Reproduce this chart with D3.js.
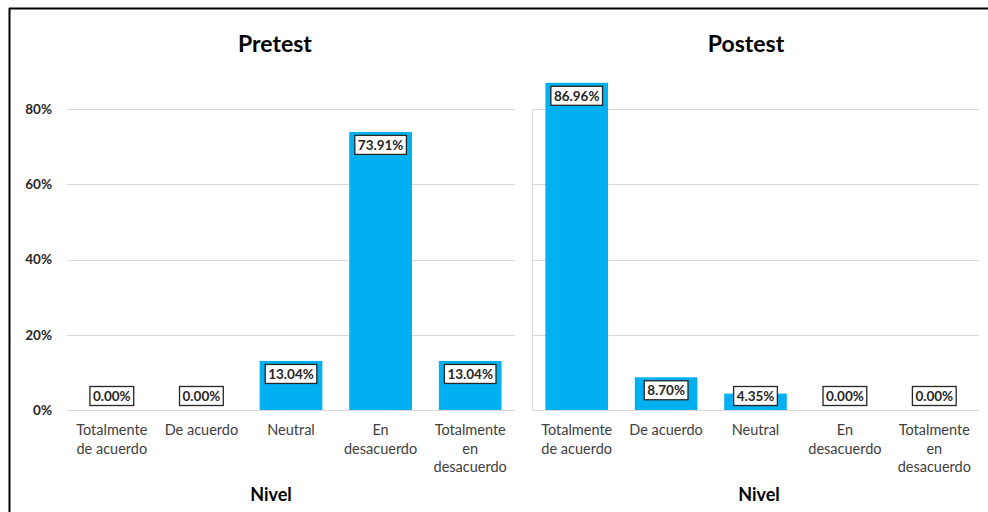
<!DOCTYPE html>
<html>
<head>
<meta charset="utf-8">
<script src="https://cdn.jsdelivr.net/npm/d3@7"></script>
<style>
  body { margin: 0; background: #fff; }
  svg { font-family: Lato, "Open Sans", sans-serif; }
</style>
</head>
<body>
<svg></svg>
<script>
const width = 988;
const height = 512;

// data
const categories = ["Totalmente de acuerdo", "De acuerdo", "Neutral", "En desacuerdo", "Totalmente en desacuerdo"];
const categoryLines = [["Totalmente", "de acuerdo"], ["De acuerdo"], ["Neutral"], ["En", "desacuerdo"], ["Totalmente", "en", "desacuerdo"]];
const pretest = [0.00, 0.00, 13.04, 73.91, 13.04];
const postest = [86.96, 8.70, 4.35, 0.00, 0.00];
const yTicks = [0, 20, 40, 60, 80];

const svg = d3.select("svg")
  .attr("width", width)
  .attr("height", height);

// outer frame (top and left edges visible)
svg.append("line").attr("x1", 9).attr("x2", width).attr("y1", 8.5).attr("y2", 8.5)
  .attr("stroke", "#000").attr("stroke-width", 2);
svg.append("line").attr("x1", 9.5).attr("x2", 9.5).attr("y1", 8).attr("y2", height)
  .attr("stroke", "#000").attr("stroke-width", 2);

const y = d3.scaleLinear().domain([0, 80]).range([410, 109]);

function panel(title, values, x0, x1, titleX, nivelX, showY, showAxisLine) {
  const x = d3.scaleBand().domain(categories).range([x0, x1]).paddingInner(0.3).paddingOuter(0.15);
  const g = svg.append("g");

  // gridlines
  g.selectAll("line.grid").data(yTicks).enter().append("line")
    .attr("class", "grid")
    .attr("x1", x0).attr("x2", x1)
    .attr("y1", d => Math.round(y(d)) + 0.5).attr("y2", d => Math.round(y(d)) + 0.5)
    .attr("stroke", "#d9d9d9").attr("stroke-width", 1);

  if (showAxisLine) {
    g.append("line").attr("x1", x0 + 0.5).attr("x2", x0 + 0.5)
      .attr("y1", y(80)).attr("y2", y(0))
      .attr("stroke", "#d9d9d9");
  }

  if (showY) {
    const ay = g.append("g").attr("transform", "translate(" + x0 + ",0)")
      .call(d3.axisLeft(y).tickValues(yTicks).tickSize(0).tickPadding(15).tickFormat(d => d + "%"));
    ay.select(".domain").remove();
    ay.selectAll("text").attr("font-size", 13.5).attr("font-weight", "bold")
      .attr("fill", "#262626").attr("font-family", "Lato, sans-serif");
  }

  // bars
  g.selectAll("rect.bar").data(values).enter().append("rect")
    .attr("class", "bar")
    .attr("x", (d, i) => x(categories[i]))
    .attr("width", x.bandwidth())
    .attr("y", d => y(d))
    .attr("height", d => y(0) - y(d))
    .attr("fill", "#00b0f0");

  // data labels
  const lab = g.selectAll("g.lab").data(values).enter().append("g")
    .attr("class", "lab")
    .attr("transform", (d, i) => {
      const cy = Math.min(y(d) + 13, 396);
      return "translate(" + (x(categories[i]) + x.bandwidth() / 2) + "," + cy + ")";
    });
  lab.append("text")
    .attr("text-anchor", "middle")
    .attr("dy", "0.36em")
    .attr("font-size", 13.5)
    .attr("font-weight", "bold")
    .attr("fill", "#262626")
    .text(d => d.toFixed(2) + "%");
  lab.each(function () {
    const t = d3.select(this).select("text");
    const b = t.node().getBBox();
    d3.select(this).insert("rect", "text")
      .attr("x", b.x - 3).attr("y", -9.5)
      .attr("width", b.width + 6).attr("height", 19)
      .attr("fill", "#fff").attr("stroke", "#262626").attr("stroke-width", 1.3);
  });

  // category labels
  const cat = g.selectAll("text.cat").data(categoryLines).enter().append("text")
    .attr("class", "cat")
    .attr("text-anchor", "middle")
    .attr("font-size", 14.5)
    .attr("fill", "#404040")
    .attr("x", (d, i) => x(categories[i]) + x.bandwidth() / 2)
    .attr("y", 435);
  cat.selectAll("tspan").data(d => d).enter().append("tspan")
    .attr("x", function () { return d3.select(this.parentNode).attr("x"); })
    .attr("dy", (d, i) => i === 0 ? 0 : 18.5)
    .text(d => d);

  // titles
  g.append("text")
    .attr("x", titleX).attr("y", 52)
    .attr("text-anchor", "middle")
    .attr("font-size", 23).attr("font-weight", "bold").attr("fill", "#000")
    .text(title);
  g.append("text")
    .attr("x", nivelX).attr("y", 501)
    .attr("text-anchor", "middle")
    .attr("font-size", 18).attr("font-weight", "bold").attr("fill", "#000")
    .text("Nivel");
}

panel("Pretest", pretest, 67, 515, 275, 271, true, false);
panel("Postest", postest, 532, 979, 746, 759, false, true);
</script>
</body>
</html>
